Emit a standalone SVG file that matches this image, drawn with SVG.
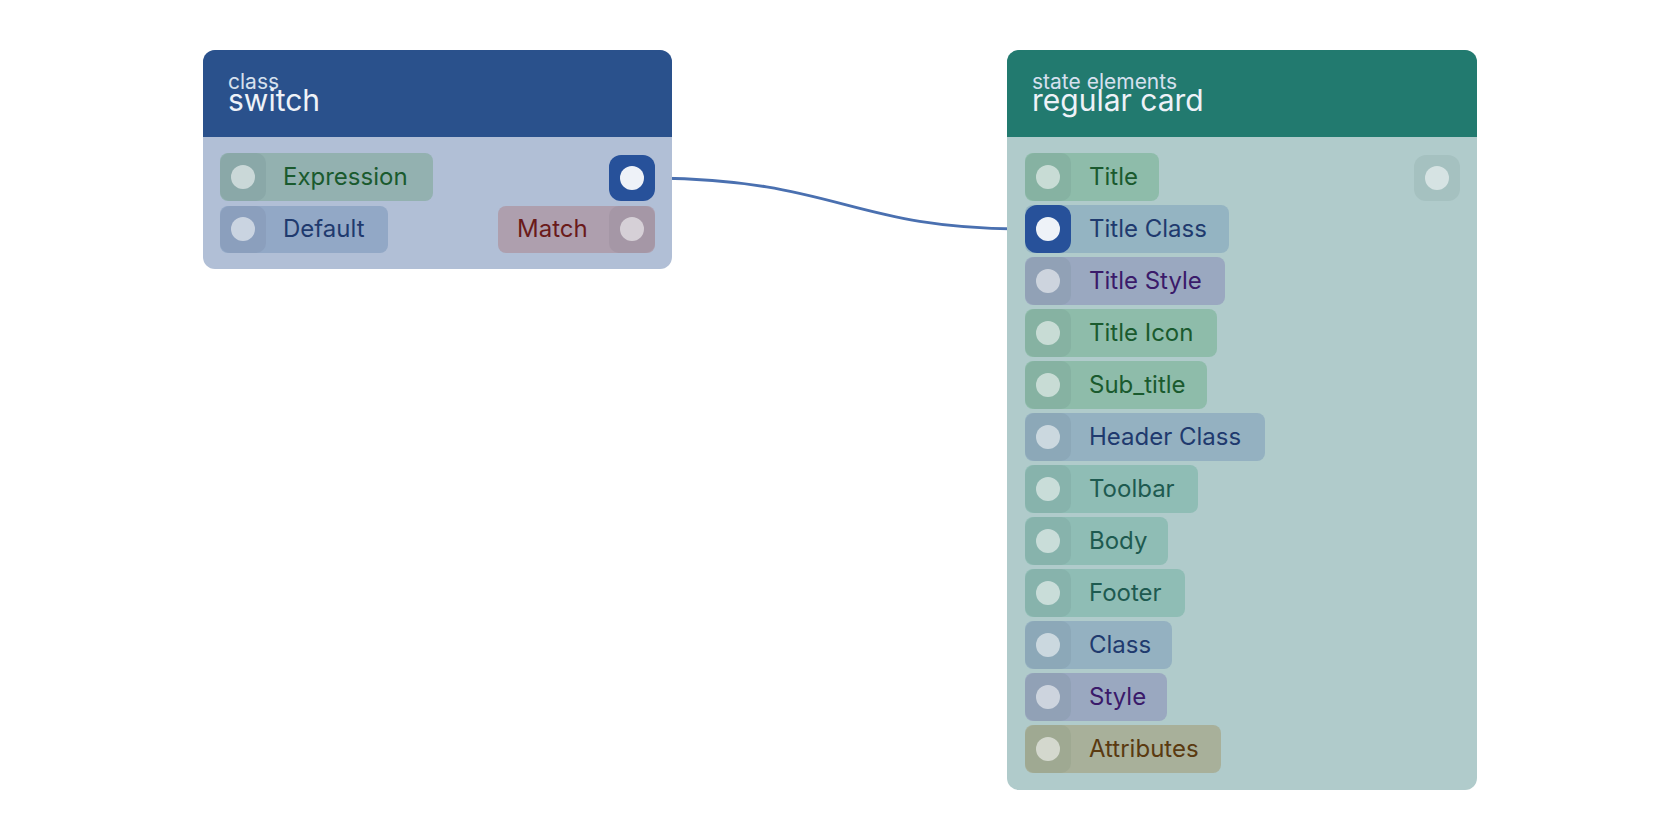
<svg xmlns="http://www.w3.org/2000/svg" width="1680" height="840" viewBox="0 0 1680 840">
<style>
text{font-family:Inter,"Noto Sans",sans-serif}
.sub{font-size:21px;fill:#d6e0ee}
.ttl{font-size:30px;fill:#eef2f8}
.lbl{font-size:24px}
.dot{fill:#ffffff;fill-opacity:0.55}
</style>
<rect width="1680" height="840" fill="#fff"/>
<g id="connectors">
<path d="M655,178 C840,180 850,229 1025,229" fill="none" stroke="#4a70b0" stroke-width="3"/>
</g>
<g id="node-switch">
<rect x="203" y="50" width="469" height="219" rx="12" fill="#b1bfd6"/>
<path d="M203,137 V62 a12,12 0 0 1 12,-12 H660 a12,12 0 0 1 12,12 V137 Z" fill="#2a518c"/>
<text x="228" y="89" class="sub">class</text>
<text x="228" y="111" class="ttl">switch</text>
<rect x="220" y="153" width="213" height="48" rx="8" fill="#93b1b0"/>
<rect x="220" y="153" width="46" height="48" rx="10" fill="#8aa8a8"/>
<circle cx="243" cy="177" r="12" class="dot"/>
<text x="283" y="185" class="lbl" fill="#1a5a2e">Expression</text>
<rect x="220" y="206" width="168" height="47" rx="8" fill="#92a8c6"/>
<rect x="220" y="206" width="46" height="47" rx="10" fill="#8b9fbd"/>
<circle cx="243" cy="229" r="12" class="dot"/>
<text x="283" y="237" class="lbl" fill="#1f3a6e">Default</text>
<rect x="609" y="155" width="46" height="46" rx="12" fill="#27519a"/>
<circle cx="632" cy="178" r="12" fill="#eef2f8"/>
<rect x="498" y="206" width="157" height="47" rx="8" fill="#ae9fae"/>
<rect x="609" y="206" width="46" height="47" rx="10" fill="#a597a6"/>
<circle cx="632" cy="229" r="12" class="dot"/>
<text x="517" y="237" class="lbl" fill="#6a1a1a">Match</text>
</g>
<g id="node-card">
<rect x="1007" y="50" width="470" height="740" rx="12" fill="#b0cbcb"/>
<path d="M1007,137 V62 a12,12 0 0 1 12,-12 H1465 a12,12 0 0 1 12,12 V137 Z" fill="#227a6f"/>
<text x="1032" y="89" class="sub">state elements</text>
<text x="1032" y="111" class="ttl">regular card</text>
<rect x="1414" y="155" width="46" height="46" rx="12" fill="#a5c1c0"/>
<circle cx="1437" cy="178" r="12" class="dot"/>
<g id="row-title"><rect x="1025" y="153" width="134" height="48" rx="8" fill="#8ebcaa"/><rect x="1025" y="153" width="46" height="48" rx="10" fill="#86b2a2"/><circle cx="1048" cy="177" r="12" class="dot"/><text x="1089" y="185" class="lbl" fill="#1a5a2e">Title</text></g>
<g id="row-titleclass"><rect x="1025" y="205" width="204" height="48" rx="8" fill="#94b4c2"/><rect x="1025" y="205" width="46" height="48" rx="12" fill="#27519a"/><circle cx="1048" cy="229" r="12" fill="#eef2f8"/><text x="1089" y="237" class="lbl" fill="#1f3a6e">Title Class</text></g>
<g id="row-titlestyle"><rect x="1025" y="257" width="200" height="48" rx="8" fill="#9aa8c0"/><rect x="1025" y="257" width="46" height="48" rx="10" fill="#91a1b6"/><circle cx="1048" cy="281" r="12" class="dot"/><text x="1089" y="289" class="lbl" fill="#3a1a6a">Title Style</text></g>
<g id="row-titleicon"><rect x="1025" y="309" width="192" height="48" rx="8" fill="#8ebcaa"/><rect x="1025" y="309" width="46" height="48" rx="10" fill="#86b2a2"/><circle cx="1048" cy="333" r="12" class="dot"/><text x="1089" y="341" class="lbl" fill="#1a5a2e">Title Icon</text></g>
<g id="row-subtitle"><rect x="1025" y="361" width="182" height="48" rx="8" fill="#8ebcaa"/><rect x="1025" y="361" width="46" height="48" rx="10" fill="#86b2a2"/><circle cx="1048" cy="385" r="12" class="dot"/><text x="1089" y="393" class="lbl" fill="#1a5a2e">Sub_title</text></g>
<g id="row-headerclass"><rect x="1025" y="413" width="240" height="48" rx="8" fill="#94b1c1"/><rect x="1025" y="413" width="46" height="48" rx="10" fill="#8ca8b8"/><circle cx="1048" cy="437" r="12" class="dot"/><text x="1089" y="445" class="lbl" fill="#1f3a6e">Header Class</text></g>
<g id="row-toolbar"><rect x="1025" y="465" width="173" height="48" rx="8" fill="#8fbdb5"/><rect x="1025" y="465" width="46" height="48" rx="10" fill="#87b3ac"/><circle cx="1048" cy="489" r="12" class="dot"/><text x="1089" y="497" class="lbl" fill="#1e5a50">Toolbar</text></g>
<g id="row-body"><rect x="1025" y="517" width="143" height="48" rx="8" fill="#8fbdb5"/><rect x="1025" y="517" width="46" height="48" rx="10" fill="#87b3ac"/><circle cx="1048" cy="541" r="12" class="dot"/><text x="1089" y="549" class="lbl" fill="#1e5a50">Body</text></g>
<g id="row-footer"><rect x="1025" y="569" width="160" height="48" rx="8" fill="#8fbdb5"/><rect x="1025" y="569" width="46" height="48" rx="10" fill="#87b3ac"/><circle cx="1048" cy="593" r="12" class="dot"/><text x="1089" y="601" class="lbl" fill="#1e5a50">Footer</text></g>
<g id="row-class"><rect x="1025" y="621" width="147" height="48" rx="8" fill="#94b1c1"/><rect x="1025" y="621" width="46" height="48" rx="10" fill="#8ca8b8"/><circle cx="1048" cy="645" r="12" class="dot"/><text x="1089" y="653" class="lbl" fill="#1f3a6e">Class</text></g>
<g id="row-style"><rect x="1025" y="673" width="142" height="48" rx="8" fill="#9aa8c0"/><rect x="1025" y="673" width="46" height="48" rx="10" fill="#91a1b6"/><circle cx="1048" cy="697" r="12" class="dot"/><text x="1089" y="705" class="lbl" fill="#3a1a6a">Style</text></g>
<g id="row-attributes"><rect x="1025" y="725" width="196" height="48" rx="8" fill="#a8b09a"/><rect x="1025" y="725" width="46" height="48" rx="10" fill="#9fa992"/><circle cx="1048" cy="749" r="12" class="dot"/><text x="1089" y="757" class="lbl" fill="#5a3a10">Attributes</text></g>
</g>
</svg>
